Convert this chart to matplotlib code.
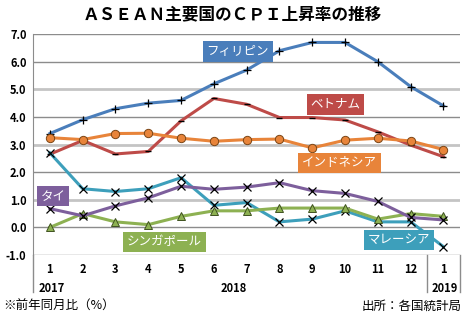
import matplotlib
matplotlib.use("Agg")
import matplotlib.pyplot as plt
from matplotlib.lines import Line2D

plt.rcParams['font.family'] = ['Noto Sans CJK JP', 'DejaVu Sans']

months = ["1", "2", "3", "4", "5", "6", "7", "8", "9", "10", "11", "12", "1"]
philippines = [3.4, 3.9, 4.3, 4.5, 4.6, 5.2, 5.7, 6.4, 6.7, 6.7, 6.0, 5.1, 4.4]
vietnam = [2.65, 3.15, 2.66, 2.75, 3.86, 4.67, 4.46, 3.98, 3.98, 3.89, 3.46, 2.98, 2.56]
indonesia = [3.25, 3.18, 3.40, 3.41, 3.23, 3.12, 3.18, 3.20, 2.88, 3.16, 3.23, 3.13, 2.82]
thailand = [0.68, 0.42, 0.78, 1.07, 1.49, 1.38, 1.46, 1.62, 1.33, 1.23, 0.94, 0.36, 0.27]
malaysia = [2.7, 1.4, 1.3, 1.4, 1.8, 0.8, 0.9, 0.2, 0.3, 0.6, 0.2, 0.2, -0.7]
singapore = [0.0, 0.5, 0.2, 0.1, 0.4, 0.6, 0.6, 0.7, 0.7, 0.7, 0.3, 0.5, 0.4]

BLUE = "#4a7ebb"
RED = "#be4b48"
ORANGE = "#e8843a"
PURPLE = "#7d5f9c"
TEAL = "#3d9fbb"
GREEN = "#8db152"

fig = plt.figure(figsize=(4.65, 3.21), dpi=100)
ax = fig.add_axes([0.072, 0.2056, 0.917, 0.688])
x = range(len(months))

# gridlines: dark at even values, light & thicker at odd values
for v in range(-1, 8):
    if v % 2 == 0 or v in (-1, 7):
        ax.axhline(v, color="#8c8c8c", lw=1.0, zorder=1)
    else:
        ax.axhline(v, color="#c4c4c4", lw=2.0, zorder=1)

lw = 2.2
ax.plot(x, vietnam, color=RED, lw=lw, marker="_", ms=5, mec="black", mew=1, zorder=3)
ax.plot(x, philippines, color=BLUE, lw=lw, marker="+", ms=6, mec="black", mew=0.9, zorder=4)
ax.plot(x, indonesia, color=ORANGE, lw=lw, marker="o", ms=6, mfc=ORANGE, mec="#7a4515", mew=0.7, zorder=5)
ax.plot(x, malaysia, color=TEAL, lw=lw, marker="x", ms=6, mec="black", mew=0.9, zorder=4)
ax.plot(x, singapore, color=GREEN, lw=lw, marker="^", ms=5.5, mfc=GREEN, mec="#3f5220", mew=0.7, zorder=5)
ax.plot(x, thailand, color=PURPLE, lw=lw, marker="x", ms=6, mec="black", mew=0.9, zorder=6)

ax.set_xlim(-0.5, 12.5)
ax.set_ylim(-1, 7)
ax.set_yticks(range(-1, 8))
ax.set_yticklabels([f"{v:.1f}" for v in range(-1, 8)], fontsize=8, fontweight="bold")
ax.set_xticks(list(x))
ax.set_xticklabels(months, fontsize=8, fontweight="bold")
ax.tick_params(axis="both", length=0, pad=5)
ax.tick_params(axis="x", pad=6)
for s in ["top", "right", "bottom"]:
    ax.spines[s].set_visible(False)
ax.spines["left"].set_color("#8c8c8c")

# separators and years below the axis
for xs in [0, 12 / 13, 1]:
    ax.add_line(Line2D([xs, xs], [0, -0.168], transform=ax.transAxes,
                       color="#8c8c8c", lw=1.0, clip_on=False))
for xs, yr in [(0.05, "2017"), (5.6, "2018"), (12.05, "2019")]:
    ax.text(xs, -0.15, yr, transform=ax.get_xaxis_transform(), ha="center", va="center",
            fontsize=8, fontweight="bold")

# country name boxes
labels = [
    ("フィリピン", 5.73, 6.37, BLUE),
    ("ベトナム", 8.71, 4.46, RED),
    ("インドネシア", 8.83, 2.34, ORANGE),
    ("タイ", 0.095, 1.13, PURPLE),
    ("シンガポール", 3.49, -0.52, GREEN),
    ("マレーシア", 10.63, -0.45, TEAL),
]
for name, lx, ly, c in labels:
    ax.text(lx, ly, name, ha="center", va="center", color="white", fontsize=9, zorder=8,
            bbox=dict(boxstyle="square,pad=0.3", fc=c, ec="none"))

fig.text(0.5, 0.955, "ＡＳＥＡＮ主要国のＣＰＩ上昇率の推移", ha="center", va="center",
         fontsize=12, fontweight="bold")
fig.text(0.008, 0.045, "※前年同月比（%）", ha="left", va="center", fontsize=9)
fig.text(0.992, 0.045, "出所：各国統計局", ha="right", va="center", fontsize=9)

fig.savefig("out.png", dpi=100)
